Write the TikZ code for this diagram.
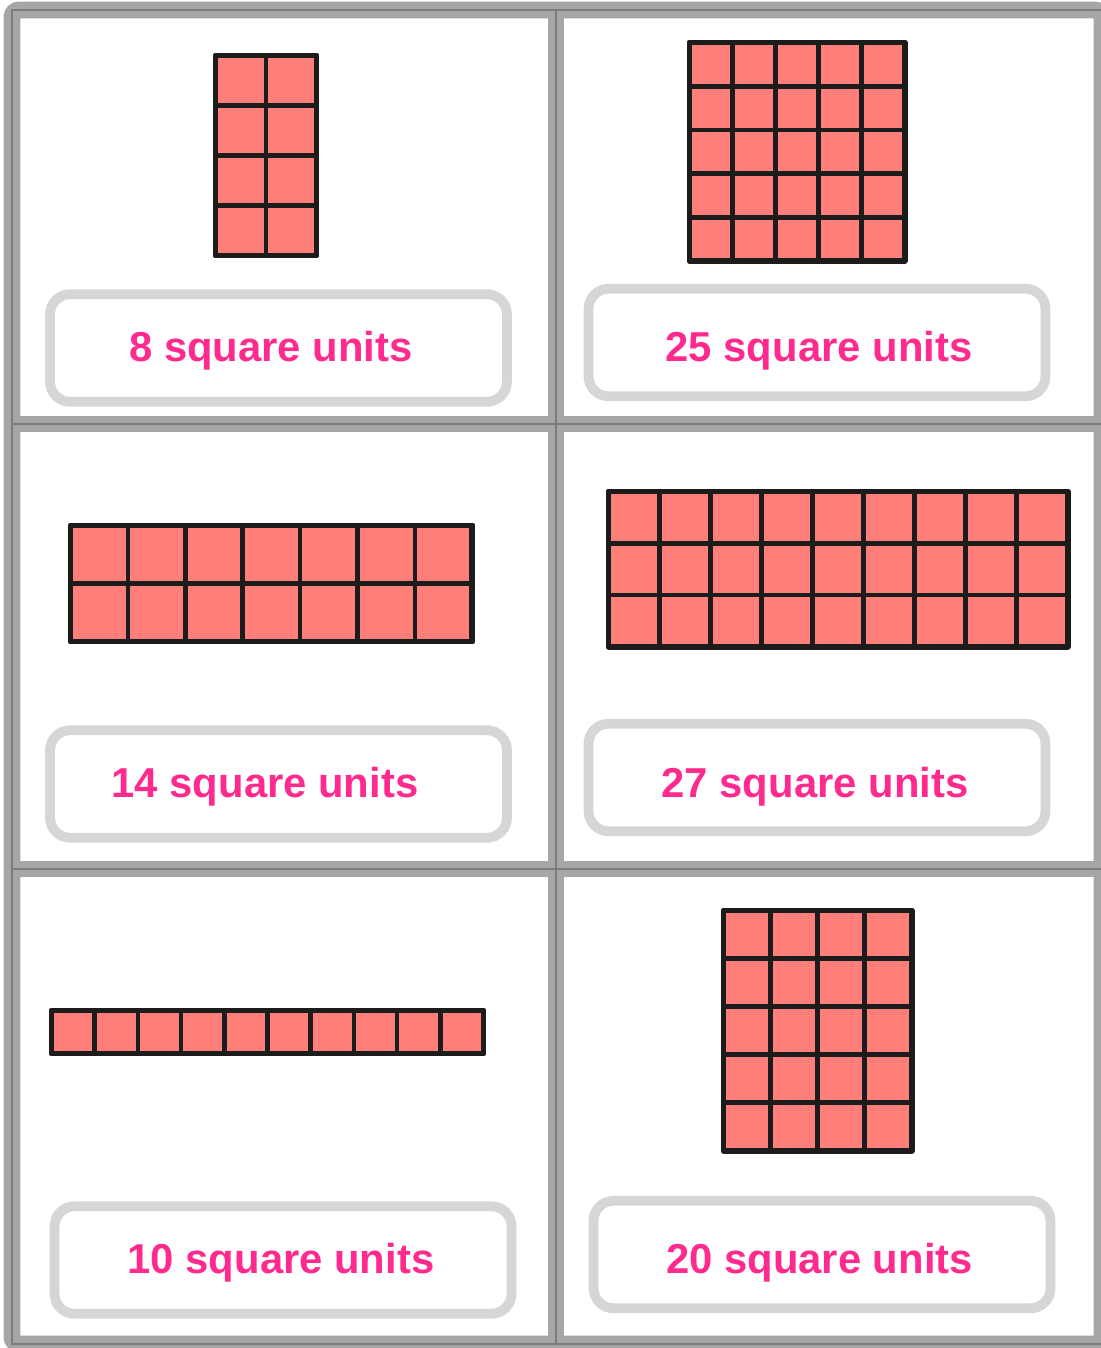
\documentclass[tikz,border=0pt]{standalone}
\usepackage{fontspec}
\setmainfont{Liberation Sans}
\usepackage{tikz}
\usetikzlibrary{positioning}

\definecolor{framegray}{RGB}{166,166,166}
\definecolor{framedark}{RGB}{124,124,124}
\definecolor{boxgray}{RGB}{214,214,214}
\definecolor{unitpink}{RGB}{255,42,142}
\definecolor{unitfill}{RGB}{255,127,122}
\definecolor{unitline}{RGB}{28,28,28}

% x, y, columns, rows, cell width, cell height (pixels)
\newcommand{\squaregrid}[6]{%
	\foreach \i in {1,...,#3}
	\foreach \j in {1,...,#4}
	\draw[cell] ({#1+(\i-1)*#5},{#2+(\j-1)*#6}) rectangle +(#5,#6);
	\draw[cell, fill=none, line width=3.4pt] (#1,#2) rectangle +({#3*#5},{#4*#6});
}

\begin{document}
\begin{tikzpicture}[
			x=0.02cm, y=-0.02cm,
			cell/.style={draw=unitline, fill=unitfill, line width=2.7pt, line join=round},
			answerbox/.style={rectangle, draw=boxgray, line width=5.6pt, rounded corners=0.4cm,
				fill=white, minimum width=9.14cm, minimum height=2.15cm},
			answer/.style={anchor=base, text=unitpink, font=\fontsize{23.8}{28}\selectfont\bfseries},
			rule/.style={framegray, line width=9.6pt},
			thinrule/.style={framedark, line width=1.5pt}
			]
			\useasboundingbox (0,0) rectangle (1101,1348);
			\fill[white] (0,0) rectangle (1101,1348);
			
			% card frame
			\draw[rule, rounded corners=4pt] (12,10) rectangle (1102,1344);
			\draw[rule] (556,10) -- (556,1344);
			\draw[rule] (12,424) -- (1102,424);
			\draw[rule] (12,869) -- (1102,869);
			\draw[thinrule] (12,10) rectangle (1102,1344);
			\draw[thinrule] (556,10) -- (556,1344);
			\draw[thinrule] (12,424) -- (1102,424);
			\draw[thinrule] (12,869) -- (1102,869);
			
			% unit squares
			\squaregrid{215.5}{55.5}{2}{4}{50.5}{50}
			\squaregrid{689.5}{42.5}{5}{5}{43}{43.7}
			\squaregrid{70.5}{525.5}{7}{2}{57.4}{58}
			\squaregrid{608.5}{491.5}{9}{3}{51}{51.7}
			\squaregrid{51.5}{1010.5}{10}{1}{43.2}{43}
			\squaregrid{723.5}{910.5}{4}{5}{47}{48}
			
			% answers
			\node[answerbox] (B8) at (278.5,348) {};
			\node[answerbox] (B25) at (817,342.5) {};
			\node[answerbox] (B14) at (278.5,784) {};
			\node[answerbox] (B27) at (817,777.5) {};
			\node[answerbox] (B10) at (283,1260) {};
			\node[answerbox] (B20) at (822,1254.5) {};
			\node[answer] (A8) at (271,361) {8 square units};
			\node[answer] (A25) at (819,361) {25 square units};
			\node[answer] (A14) at (265,797) {14 square units};
			\node[answer] (A27) at (815,797) {27 square units};
			\node[answer] (A10) at (281,1273) {10 square units};
			\node[answer] (A20) at (819.5,1273) {20 square units};
		\end{tikzpicture}
\end{document}
